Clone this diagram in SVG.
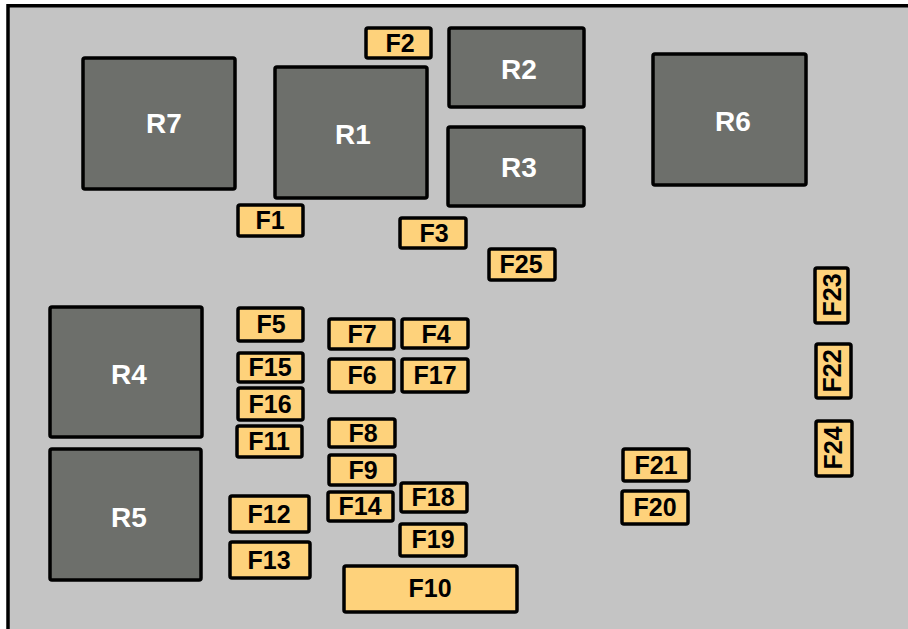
<svg xmlns="http://www.w3.org/2000/svg" width="908" height="629" viewBox="0 0 908 629">
<style>
.bg{fill:#c4c4c4}
.relay rect{fill:#6d6f6b;stroke:#000;stroke-width:3.5}
.relay text{fill:#fff;font-family:"Liberation Sans",Arial,sans-serif;font-weight:bold;font-size:28px;text-anchor:middle}
.fuse rect{fill:#fed27b;stroke:#000;stroke-width:3.5}
.fuse text{fill:#000;font-family:"Liberation Sans",Arial,sans-serif;font-weight:bold;font-size:25px;text-anchor:middle}
</style>
<rect width="908" height="629" fill="#fff"/>
<rect class="bg" x="8" y="6" width="900" height="623"/>
<line x1="8" y1="5.8" x2="908" y2="5.8" stroke="#000" stroke-width="3.5"/>
<line x1="8" y1="4" x2="8" y2="629" stroke="#000" stroke-width="3.5"/>
<g id="connectors"></g>
<g id="R7" class="relay"><rect x="83" y="58" width="152" height="131" rx="2"/><text x="164" y="133">R7</text></g>
<g id="R1" class="relay"><rect x="275" y="67" width="152" height="131" rx="2"/><text x="353" y="144">R1</text></g>
<g id="R2" class="relay"><rect x="449" y="28" width="135" height="79" rx="2"/><text x="519" y="79">R2</text></g>
<g id="R3" class="relay"><rect x="448" y="127" width="136" height="79" rx="2"/><text x="519" y="177">R3</text></g>
<g id="R6" class="relay"><rect x="653" y="54" width="153" height="131" rx="2"/><text x="733" y="131">R6</text></g>
<g id="R4" class="relay"><rect x="50" y="307" width="152" height="130" rx="2"/><text x="129" y="384">R4</text></g>
<g id="R5" class="relay"><rect x="50" y="449" width="151" height="131" rx="2"/><text x="129" y="527">R5</text></g>
<g id="F2" class="fuse"><rect x="366" y="28" width="65" height="30" rx="2"/><text x="400" y="52">F2</text></g>
<g id="F1" class="fuse"><rect x="238" y="205" width="65" height="31" rx="2"/><text x="270" y="229">F1</text></g>
<g id="F3" class="fuse"><rect x="400" y="218" width="66" height="30" rx="2"/><text x="434" y="242">F3</text></g>
<g id="F25" class="fuse"><rect x="489" y="249" width="66" height="31" rx="2"/><text x="521" y="273">F25</text></g>
<g id="F5" class="fuse"><rect x="238" y="308" width="65" height="33" rx="2"/><text x="271" y="333">F5</text></g>
<g id="F15" class="fuse"><rect x="238" y="353" width="65" height="29" rx="2"/><text x="270" y="376">F15</text></g>
<g id="F16" class="fuse"><rect x="238" y="388" width="65" height="32" rx="2"/><text x="270" y="413">F16</text></g>
<g id="F11" class="fuse"><rect x="237" y="426" width="65" height="31" rx="2"/><text x="269" y="450">F11</text></g>
<g id="F12" class="fuse"><rect x="230" y="496" width="79" height="36" rx="2"/><text x="269" y="523">F12</text></g>
<g id="F13" class="fuse"><rect x="230" y="542" width="80" height="36" rx="2"/><text x="269" y="569">F13</text></g>
<g id="F7" class="fuse"><rect x="329" y="319" width="65" height="30" rx="2"/><text x="362" y="343">F7</text></g>
<g id="F4" class="fuse"><rect x="402" y="319" width="66" height="29" rx="2"/><text x="436" y="343">F4</text></g>
<g id="F6" class="fuse"><rect x="329" y="359" width="65" height="33" rx="2"/><text x="362" y="384">F6</text></g>
<g id="F17" class="fuse"><rect x="402" y="359" width="66" height="33" rx="2"/><text x="435" y="384">F17</text></g>
<g id="F8" class="fuse"><rect x="329" y="419" width="66" height="28" rx="2"/><text x="363" y="442">F8</text></g>
<g id="F9" class="fuse"><rect x="329" y="455" width="66" height="30" rx="2"/><text x="363" y="479">F9</text></g>
<g id="F14" class="fuse"><rect x="328" y="492" width="65" height="29" rx="2"/><text x="360" y="515">F14</text></g>
<g id="F18" class="fuse"><rect x="401" y="483" width="66" height="29" rx="2"/><text x="433" y="506">F18</text></g>
<g id="F19" class="fuse"><rect x="400" y="524" width="66" height="32" rx="2"/><text x="433" y="548">F19</text></g>
<g id="F10" class="fuse"><rect x="344" y="566" width="173" height="46" rx="2"/><text x="430" y="597">F10</text></g>
<g id="F21" class="fuse"><rect x="623" y="449" width="66" height="32" rx="2"/><text x="656" y="474">F21</text></g>
<g id="F20" class="fuse"><rect x="622" y="491" width="66" height="33" rx="2"/><text x="655" y="516">F20</text></g>
<g id="F23" class="fuse"><rect x="815" y="268" width="33" height="55" rx="2"/><text x="832" y="304" transform="rotate(-90 832 295)">F23</text></g>
<g id="F22" class="fuse"><rect x="816" y="344" width="35" height="54" rx="2"/><text x="832" y="380" transform="rotate(-90 832 371)">F22</text></g>
<g id="F24" class="fuse"><rect x="816" y="421" width="36" height="55" rx="2"/><text x="833" y="457" transform="rotate(-90 833 448)">F24</text></g>
</svg>
